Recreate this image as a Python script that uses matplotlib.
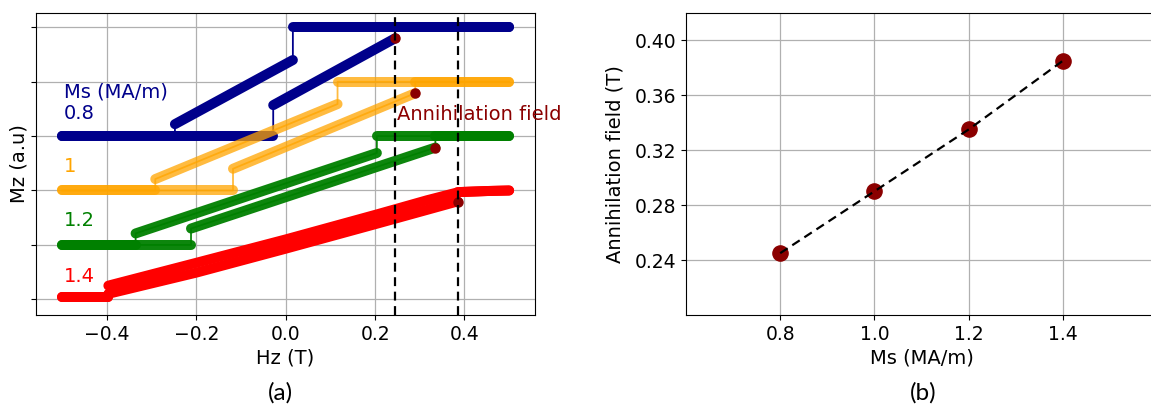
import matplotlib
matplotlib.use("Agg")
import matplotlib.pyplot as plt
from matplotlib.ticker import FormatStrFormatter

# ---------------- data ----------------
ms_values = [0.8, 1.0, 1.2, 1.4]
ms_labels = ["0.8", "1", "1.2", "1.4"]
loop_colors = ["darkblue", "orange", "green", "red"]
loop_alpha = [1.0, 0.75, 0.95, 1.0]

# annihilation field (T) per Ms (panel b)
ann_field = [0.245, 0.29, 0.335, 0.385]
# Mz (offset, a.u.) of the annihilation point on each loop (panel a)
ann_mz = [4.80, 3.79, 2.79, 1.79]

# hysteresis loops: increasing-field branch and decreasing-field branch
up_H = [
    [-0.50, -0.028, -0.028, 0.245, 0.245, 0.50],
    [-0.50, -0.118, -0.118, 0.290, 0.290, 0.50],
    [-0.50, -0.212, -0.212, 0.335, 0.335, 0.50],
    [-0.50, -0.397, -0.397, -0.20, 0.00, 0.20, 0.385, 0.385, 0.45, 0.50],
]
up_M = [
    [3.00, 3.00, 3.57, 4.80, 5.00, 5.00],
    [2.00, 2.00, 2.40, 3.79, 4.00, 4.00],
    [1.00, 1.00, 1.30, 2.79, 3.00, 3.00],
    [0.04, 0.04, 0.10, 0.49, 0.93, 1.38, 1.80, 1.97, 1.99, 2.00],
]
down_H = [
    [0.50, 0.016, 0.016, -0.248, -0.248, -0.50],
    [0.50, 0.116, 0.116, -0.292, -0.292, -0.50],
    [0.50, 0.204, 0.204, -0.336, -0.336, -0.50],
    [0.50, 0.45, 0.387, 0.316, 0.204, 0.00, -0.20, -0.397, -0.397, -0.50],
]
down_M = [
    [5.00, 5.00, 4.40, 3.22, 3.00, 3.00],
    [4.00, 4.00, 3.59, 2.21, 2.00, 2.00],
    [3.00, 3.00, 2.69, 1.21, 1.00, 1.00],
    [2.00, 1.99, 1.97, 1.82, 1.56, 1.10, 0.67, 0.25, 0.04, 0.04],
]

mz_ticks = [0, 1, 2, 3, 4, 5]
hz_ticks = [-0.4, -0.2, 0.0, 0.2, 0.4]
ms_ticks = [0.8, 1.0, 1.2, 1.4]
ann_ticks = [0.24, 0.28, 0.32, 0.36, 0.40]

# ---------------- figure ----------------
W, H = 1151, 405
fig = plt.figure(figsize=(W / 100, H / 100), dpi=100)

def fx(px):
    return px / W

def fy(py):
    return 1 - py / H

ax1 = fig.add_axes([fx(36), fy(315), fx(535) - fx(36), fy(12.7) - fy(315)])
ax2 = fig.add_axes([fx(686), fy(315), fx(1157) - fx(686), fy(12.7) - fy(315)])

TICK_FS = 13.5
LAB_FS = 14
BAND_LW = 7.2


def draw_branch(ax, hs, ms, color, alpha):
    # thin connecting line through every point
    ax.plot(hs, ms, color=color, lw=1.3, alpha=alpha, zorder=2)
    # thick band for the non-vertical pieces
    seg_h, seg_m = [hs[0]], [ms[0]]
    pieces = []
    for i in range(1, len(hs)):
        if hs[i] == hs[i - 1]:
            pieces.append((seg_h, seg_m))
            seg_h, seg_m = [hs[i]], [ms[i]]
        else:
            seg_h.append(hs[i])
            seg_m.append(ms[i])
    pieces.append((seg_h, seg_m))
    for ph, pm in pieces:
        if len(ph) > 1:
            ax.plot(ph, pm, color=color, lw=BAND_LW, alpha=alpha,
                    solid_capstyle="round", solid_joinstyle="round", zorder=3)


for k in range(len(ms_values)):
    draw_branch(ax1, up_H[k], up_M[k], loop_colors[k], loop_alpha[k])
    draw_branch(ax1, down_H[k], down_M[k], loop_colors[k], loop_alpha[k])

ax1.plot(ann_field, ann_mz, "o", color="darkred", ms=6.5, ls="none", zorder=5)
for hv in (ann_field[0], ann_field[-1]):
    ax1.axvline(hv, color="black", ls="--", lw=1.6, dashes=(4, 2.5), zorder=6)

ax1.set_xlim(-0.559, 0.558)
ax1.set_ylim(-0.29, 5.27)
ax1.set_xticks(hz_ticks)
ax1.set_yticks(mz_ticks)
ax1.set_yticklabels([])
ax1.grid(True, color="#b0b0b0", lw=0.9)
ax1.set_axisbelow(True)
ax1.tick_params(labelsize=TICK_FS)
ax1.set_xlabel("Hz (T)", fontsize=LAB_FS)
ax1.set_ylabel("Mz (a.u)", fontsize=LAB_FS)
ax1.xaxis.set_label_coords(0.5, -0.112)
ax1.yaxis.set_label_coords(-0.016, 0.5)

# annotations
ax1.text(-0.497, 3.82, "Ms (MA/m)", color="darkblue", fontsize=LAB_FS, va="center", ha="left")
label_y = [3.42, 2.44, 1.44, 0.42]
for k in range(len(ms_values)):
    ax1.text(-0.497, label_y[k], ms_labels[k], color=loop_colors[k],
             fontsize=LAB_FS, va="center", ha="left")
ax1.text(0.2486, 3.39, "Annihilation field", color="darkred", fontsize=LAB_FS,
         va="center", ha="left", clip_on=False, zorder=7)

# ---------------- panel b ----------------
ax2.plot(ms_values, ann_field, color="black", ls="--", lw=1.6, dashes=(4, 2.5), zorder=4)
ax2.scatter(ms_values, ann_field, s=120, color="darkred", zorder=3)
ax2.set_xlim(0.6, 1.6)
ax2.set_ylim(0.20, 0.42)
ax2.set_xticks(ms_ticks)
ax2.set_yticks(ann_ticks)
ax2.xaxis.set_major_formatter(FormatStrFormatter("%.1f"))
ax2.yaxis.set_major_formatter(FormatStrFormatter("%.2f"))
ax2.grid(True, color="#b0b0b0", lw=0.9)
ax2.set_axisbelow(True)
ax2.tick_params(labelsize=TICK_FS)
ax2.set_xlabel("Ms (MA/m)", fontsize=LAB_FS)
ax2.set_ylabel("Annihilation field (T)", fontsize=LAB_FS)
ax2.xaxis.set_label_coords(0.5, -0.112)
ax2.yaxis.set_label_coords(-0.13, 0.5)

# panel captions
fig.text(fx(280), fy(393), "(a)", fontsize=17.5, family="Lato", ha="center", va="center")
fig.text(fx(923), fy(393), "(b)", fontsize=17.5, family="Lato", ha="center", va="center")

fig.savefig("out.png", dpi=100)
